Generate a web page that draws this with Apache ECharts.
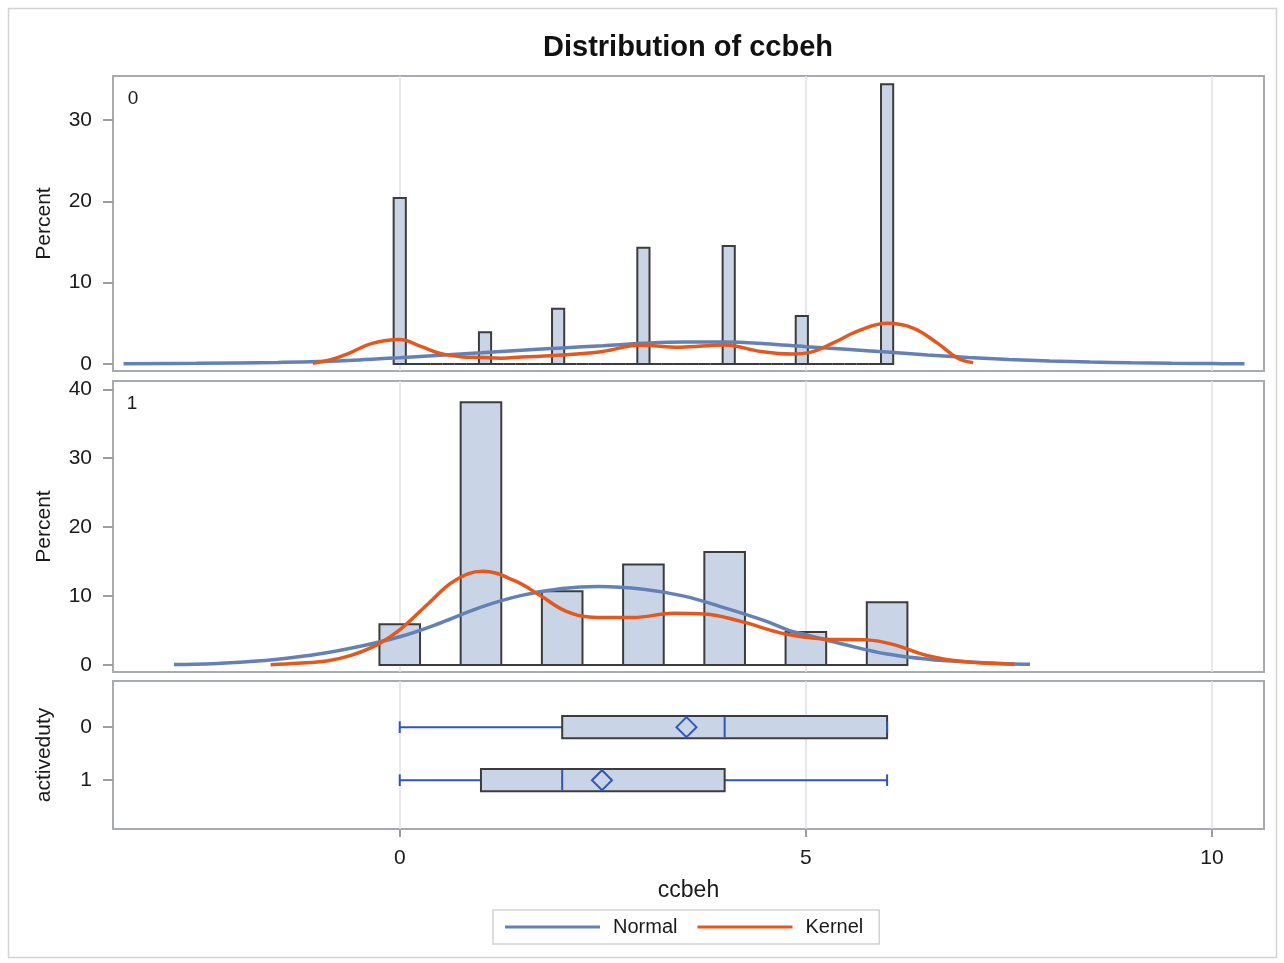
<!DOCTYPE html>
<html>
<head>
<meta charset="utf-8">
<script src="https://cdn.jsdelivr.net/npm/echarts@6/dist/echarts.min.js"></script>
<style>
  html, body { margin: 0; padding: 0; background: #ffffff; }
  #chart { width: 1284px; height: 963px; }
</style>
</head>
<body>
<div id="chart"></div>
<script>
// ccbeh distribution by activeduty: histograms with fitted curves, plus box plots

// Histogram for activeduty = 0 (bins of width 0.15 starting at 0)
const binStart0 = 0;
const binWidth0 = 0.15;
const percent0 = [
  20.4, 0, 0, 0, 0, 0, 0,
  3.9, 0, 0, 0, 0, 0,
  6.8, 0, 0, 0, 0, 0, 0,
  14.3, 0, 0, 0, 0, 0, 0,
  14.5, 0, 0, 0, 0, 0,
  5.9, 0, 0, 0, 0, 0, 0,
  34.4
];

// Histogram for activeduty = 1 (bins of width 0.5 starting at 0)
const binStart1 = 0;
const binWidth1 = 0.5;
const percent1 = [5.9, 0, 38.1, 0, 10.7, 0, 14.6, 0, 16.4, 0, 4.8, 0, 9.1];

// Fitted normal and kernel density curves, in percent
const normal0 = [
  [-3.4, 0.02], [-2.5, 0.08], [-1.5, 0.2], [-1.0, 0.3], [-0.5, 0.5], [0, 0.78],
  [0.5, 1.08], [1, 1.38], [1.5, 1.7], [2, 1.98], [2.5, 2.25], [3, 2.55],
  [3.5, 2.7], [4, 2.7], [4.5, 2.5], [5, 2.12], [5.5, 1.8], [6, 1.48],
  [6.5, 1.12], [7, 0.8], [7.5, 0.55], [8, 0.37], [8.5, 0.24], [9, 0.15],
  [9.5, 0.09], [10, 0.05], [10.4, 0.03]
];
const kernel0 = [
  [-1.07, 0.1], [-0.84, 0.55], [-0.62, 1.35], [-0.35, 2.5], [0, 3.0],
  [0.25, 2.2], [0.5, 1.3], [0.75, 0.9], [1.0, 0.8], [1.25, 0.72], [1.5, 0.85],
  [2.0, 1.1], [2.5, 1.55], [2.95, 2.3], [3.45, 2.07], [3.99, 2.35], [4.44, 1.55],
  [4.84, 1.24], [5.04, 1.4], [5.33, 2.56], [5.63, 4.0], [6.0, 5.0], [6.32, 4.42],
  [6.62, 2.56], [6.87, 0.7], [7.06, 0.17]
];
const normal1 = [
  [-2.78, 0.08], [-2.3, 0.2], [-1.84, 0.5], [-1.5, 0.85], [-1, 1.6], [-0.5, 2.7],
  [0, 4.1], [0.5, 6.1], [1, 8.4], [1.5, 10.1], [2, 11.1], [2.45, 11.4], [3, 11.0],
  [3.5, 10.0], [4, 8.3], [4.5, 6.4], [4.8, 5.0], [5, 4.4], [5.5, 2.9], [6, 1.6],
  [6.5, 0.85], [7, 0.45], [7.5, 0.2], [7.76, 0.12]
];
const kernel1 = [
  [-1.59, 0.05], [-1.25, 0.25], [-0.9, 0.6], [-0.6, 1.4], [-0.27, 3.0], [0, 5.1],
  [0.36, 9.0], [0.67, 12.2], [1.02, 13.6], [1.42, 12.2], [1.74, 10.0], [2.05, 7.8],
  [2.43, 6.9], [2.87, 6.9], [3.37, 7.5], [3.75, 7.4], [4.18, 6.4], [4.75, 4.5],
  [5.25, 3.75], [5.75, 3.65], [6.07, 3.0], [6.5, 1.35], [6.94, 0.5], [7.57, 0.1]
];

// Box plot statistics per activeduty group
const boxGroups = [0, 1];
const boxMin = [0, 0];
const boxQ1 = [2, 1];
const boxMedian = [4, 2];
const boxQ3 = [6, 4];
const boxMax = [6, 6];
const boxMean = [3.53, 2.49];

// Tick values
const xTicks = [0, 5, 10];
const yTicks0 = [0, 10, 20, 30];
const yTicks1 = [0, 10, 20, 30, 40];
const boxTicks = [0, 1];

// ---------- styling ----------
const FONT = '"Liberation Sans", Arial, sans-serif';
const TEXT = '#1a1a1a';
const FRAME = '#a7abb0';
const GRIDLINE = '#e2e2e2';
const BAR_FILL = '#c9d5e6';
const BAR_EDGE = '#3c3c3c';
const NORMAL_COLOR = '#6481b5';
const KERNEL_COLOR = '#e3581f';
const WHISKER = '#2f55b8';

const X_MIN = -3.53, X_MAX = 10.64;
const BOX_HALF = 0.21;   // half box height, in category units
const CAP_HALF = 0.11;   // half whisker-cap height

const histData0 = percent0.map((v, i) => [binStart0 + i * binWidth0, v]);
const histData1 = percent1.map((v, i) => [binStart1 + i * binWidth1, v]);
const boxData = boxGroups.map((g, i) =>
  [g, boxMin[i], boxQ1[i], boxMedian[i], boxQ3[i], boxMax[i], boxMean[i]]);

function histRenderer(width) {
  return function (params, api) {
    const c = api.value(0), v = api.value(1);
    const tl = api.coord([c - width / 2, v]);
    const br = api.coord([c + width / 2, 0]);
    return {
      type: 'rect',
      shape: { x: tl[0], y: tl[1], width: br[0] - tl[0], height: br[1] - tl[1] },
      style: { fill: BAR_FILL, stroke: BAR_EDGE, lineWidth: 2 }
    };
  };
}

function boxRenderer(params, api) {
  const g = api.value(0);
  const lo = api.value(1), q1 = api.value(2), med = api.value(3);
  const q3 = api.value(4), hi = api.value(5), mean = api.value(6);
  const pLo = api.coord([lo, g]), pQ1 = api.coord([q1, g]);
  const pQ3 = api.coord([q3, g]), pHi = api.coord([hi, g]);
  const yTop = api.coord([q1, g - BOX_HALF])[1];
  const yBot = api.coord([q1, g + BOX_HALF])[1];
  const capTop = api.coord([lo, g - CAP_HALF])[1];
  const capBot = api.coord([lo, g + CAP_HALF])[1];
  const y0 = Math.min(yTop, yBot), y1 = Math.max(yTop, yBot);
  const c0 = Math.min(capTop, capBot), c1 = Math.max(capTop, capBot);
  const pMed = api.coord([med, g]);
  const pMean = api.coord([mean, g]);
  const d = 10;
  const wStyle = { stroke: WHISKER, lineWidth: 2 };
  return {
    type: 'group',
    children: [
      { type: 'line', shape: { x1: pLo[0], y1: pLo[1], x2: pQ1[0], y2: pQ1[1] }, style: wStyle },
      { type: 'line', shape: { x1: pQ3[0], y1: pQ3[1], x2: pHi[0], y2: pHi[1] }, style: wStyle },
      { type: 'rect', shape: { x: pQ1[0], y: y0, width: pQ3[0] - pQ1[0], height: y1 - y0 },
        style: { fill: BAR_FILL, stroke: BAR_EDGE, lineWidth: 2 } },
      { type: 'line', shape: { x1: pMed[0], y1: y0 + 1, x2: pMed[0], y2: y1 - 1 }, style: wStyle },
      { type: 'line', shape: { x1: pLo[0], y1: c0, x2: pLo[0], y2: c1 }, style: wStyle },
      { type: 'line', shape: { x1: pHi[0], y1: c0, x2: pHi[0], y2: c1 }, style: wStyle },
      { type: 'polygon',
        shape: { points: [[pMean[0], pMean[1] - d], [pMean[0] + d, pMean[1]],
                          [pMean[0], pMean[1] + d], [pMean[0] - d, pMean[1]]] },
        style: { fill: 'none', stroke: WHISKER, lineWidth: 2 } }
    ]
  };
}

function xAxis(gridIndex, showLabels) {
  return {
    type: 'value', gridIndex, min: X_MIN, max: X_MAX,
    axisLine: { show: false, onZero: false },
    axisTick: { show: showLabels, customValues: xTicks, length: 8,
                lineStyle: { color: '#9a9ea3', width: 2 } },
    axisLabel: { show: showLabels, customValues: xTicks, margin: 19,
                 fontSize: 21, color: TEXT, fontFamily: FONT },
    splitLine: { show: true, lineStyle: { color: GRIDLINE, width: 1.5 } },
    name: showLabels ? 'ccbeh' : '',
    nameLocation: 'middle', nameGap: 50,
    nameTextStyle: { fontSize: 23, color: TEXT, fontFamily: FONT }
  };
}

function yAxis(gridIndex, min, max, ticks, name, inverse) {
  return {
    type: 'value', gridIndex, min, max, inverse: !!inverse,
    axisLine: { show: false, onZero: false },
    axisTick: { show: true, customValues: ticks, length: 10,
                lineStyle: { color: '#9a9ea3', width: 2 } },
    axisLabel: { show: true, customValues: ticks, margin: 21,
                 fontSize: 21, color: TEXT, fontFamily: FONT },
    splitLine: { show: false },
    name, nameLocation: 'middle', nameGap: 58,
    nameTextStyle: { fontSize: 21, color: TEXT, fontFamily: FONT }
  };
}

const gridBase = { left: 113, right: 20, show: true, borderColor: FRAME, borderWidth: 2,
                   backgroundColor: '#ffffff' };

const option = {
  backgroundColor: '#ffffff',
  animation: false,
  grid: [
    Object.assign({ top: 76, height: 295 }, gridBase),
    Object.assign({ top: 381, height: 291 }, gridBase),
    Object.assign({ top: 681, height: 148 }, gridBase)
  ],
  xAxis: [xAxis(0, false), xAxis(1, false), xAxis(2, true)],
  yAxis: [
    yAxis(0, -0.86, 35.4, yTicks0, 'Percent'),
    yAxis(1, -1.01, 41.2, yTicks1, 'Percent'),
    yAxis(2, -0.87, 1.92, boxTicks, 'activeduty', true)
  ],
  legend: {
    data: ['Normal', 'Kernel'],
    left: 493, top: 910,
    icon: 'rect', itemWidth: 95, itemHeight: 3, itemGap: 20,
    padding: [7, 16, 7, 12],
    borderColor: '#d2d2d2', borderWidth: 1.5,
    textStyle: { fontSize: 20, color: TEXT, fontFamily: FONT, padding: [0, 0, 0, 8] },
    selectedMode: false
  },
  graphic: [
    { type: 'rect', shape: { x: 8.5, y: 8.5, width: 1268, height: 949 },
      style: { fill: 'none', stroke: '#d3d3d3', lineWidth: 1.5 }, silent: true, z: -10 },
    { type: 'text', x: 688, y: 48,
      style: { text: 'Distribution of ccbeh', fontSize: 29, fontWeight: 'bold',
               fontFamily: FONT, fill: '#111111', textAlign: 'center', textVerticalAlign: 'middle' } },
    { type: 'text', x: 133, y: 99,
      style: { text: '0', fontSize: 19, fontFamily: FONT, fill: TEXT,
               textAlign: 'center', textVerticalAlign: 'middle' } },
    { type: 'text', x: 132, y: 404,
      style: { text: '1', fontSize: 19, fontFamily: FONT, fill: TEXT,
               textAlign: 'center', textVerticalAlign: 'middle' } }
  ],
  series: [
    { type: 'custom', name: 'hist0', xAxisIndex: 0, yAxisIndex: 0,
      renderItem: histRenderer(binWidth0), data: histData0, z: 2 },
    { type: 'line', name: 'Normal', xAxisIndex: 0, yAxisIndex: 0, data: normal0,
      smooth: 0.4, showSymbol: false, z: 3,
      lineStyle: { color: NORMAL_COLOR, width: 3.5 }, itemStyle: { color: NORMAL_COLOR } },
    { type: 'line', name: 'Kernel', xAxisIndex: 0, yAxisIndex: 0, data: kernel0,
      smooth: 0.4, showSymbol: false, z: 4,
      lineStyle: { color: KERNEL_COLOR, width: 3.5 }, itemStyle: { color: KERNEL_COLOR } },

    { type: 'custom', name: 'hist1', xAxisIndex: 1, yAxisIndex: 1,
      renderItem: histRenderer(binWidth1), data: histData1, z: 2 },
    { type: 'line', name: 'Normal', xAxisIndex: 1, yAxisIndex: 1, data: normal1,
      smooth: 0.4, showSymbol: false, z: 3,
      lineStyle: { color: NORMAL_COLOR, width: 3.5 }, itemStyle: { color: NORMAL_COLOR } },
    { type: 'line', name: 'Kernel', xAxisIndex: 1, yAxisIndex: 1, data: kernel1,
      smooth: 0.4, showSymbol: false, z: 4,
      lineStyle: { color: KERNEL_COLOR, width: 3.5 }, itemStyle: { color: KERNEL_COLOR } },

    { type: 'custom', name: 'box', xAxisIndex: 2, yAxisIndex: 2,
      renderItem: boxRenderer, data: boxData, z: 2 }
  ]
};

const chart = echarts.init(document.getElementById('chart'), null, { renderer: 'canvas' });
chart.setOption(option);
</script>
</body>
</html>
